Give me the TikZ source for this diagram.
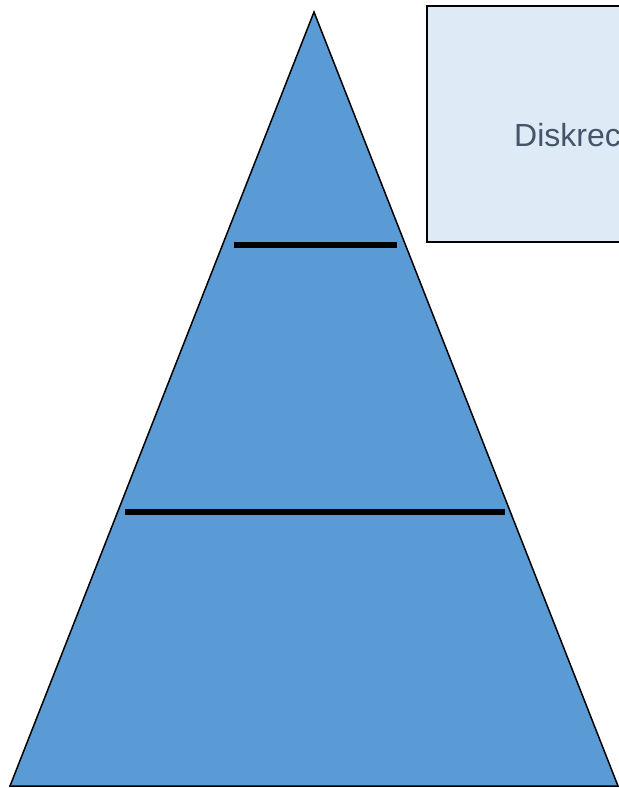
\documentclass[tikz,border=0pt]{standalone}
\usepackage{fontspec}
\setmainfont{Liberation Sans}
\usetikzlibrary{shapes,arrows,positioning}
\definecolor{pyramidblue}{RGB}{91,155,213}
\definecolor{notefill}{RGB}{222,234,246}
\definecolor{notetext}{RGB}{68,84,106}

\begin{document}
\begin{tikzpicture}[x=1pt, y=-1pt]
  \useasboundingbox (0,0) rectangle (619,788);
  \clip (0,0) rectangle (619,788);
  \coordinate (apex) at (314,12);
  \coordinate (baseleft) at (10,786);
  \coordinate (baseright) at (618,786);
  \draw[fill=pyramidblue, line width=1.5pt, line join=miter] (apex) -- (baseleft) -- (baseright) -- cycle;
  \coordinate (topl) at (234,245);
  \coordinate (topr) at (397,245);
  \coordinate (midl) at (125,512);
  \coordinate (midr) at (505,512);
  \draw[line width=6pt] (topl) -- (topr);
  \draw[line width=6pt] (midl) -- (midr);
  \node[draw, rectangle, fill=notefill, line width=1.5pt, minimum width=260pt, minimum height=236pt, anchor=north west] (note) at (426,5) {};
  \node[anchor=base west, inner sep=0pt, text=notetext, font=\fontsize{32}{38}\selectfont] (notelabel) at (514,146) {Diskrec};
\end{tikzpicture}
\end{document}
